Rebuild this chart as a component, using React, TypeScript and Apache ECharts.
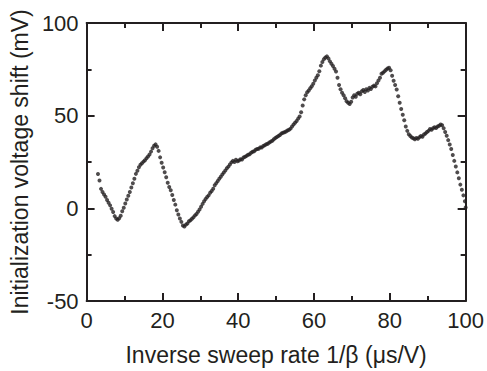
import React, { useEffect, useRef } from "react";
import * as echarts from "echarts";

const xTicks = [0, 20, 40, 60, 80, 100];
const yTicks = [-50, 0, 50, 100];
const xTitle = "Inverse sweep rate 1/β (μs/V)";
const yTitle = "Initialization voltage shift (mV)";

// measured points [inverse sweep rate, voltage shift]
const segA = [
  [3.0, 18.5], [3.4, 15.0], [3.8, 10.5], [4.2, 8.8], [4.6, 7.5], [5.0, 6.2], [5.4, 4.5], [5.8, 3.0],
  [6.2, 1.6], [6.6, -0.2], [7.0, -2.0], [7.4, -4.2], [7.8, -5.5], [8.2, -6.2], [8.6, -5.3], [9.0, -4.0],
  [9.4, -1.6], [9.8, 0.3], [10.2, 2.6], [10.6, 4.8], [11.0, 6.8], [11.4, 8.8], [11.8, 11.2], [12.2, 13.5],
  [12.6, 16.0], [13.0, 18.6], [13.4, 20.3], [13.8, 22.2], [14.2, 23.5], [14.6, 24.3], [15.0, 25.2], [15.4, 25.9],
  [15.8, 27.0], [16.2, 28.0], [16.6, 29.0], [17.0, 30.6], [17.4, 32.4], [17.8, 33.8], [18.2, 34.5], [18.6, 33.2],
  [19.0, 31.0], [19.4, 27.5], [19.8, 24.6], [20.2, 22.0], [20.6, 19.5], [21.0, 16.8], [21.4, 13.8], [21.8, 11.5],
  [22.2, 9.8], [22.6, 7.2], [23.0, 4.5], [23.4, 2.0], [23.8, -1.0], [24.2, -3.3], [24.6, -5.5], [25.0, -7.3],
  [25.4, -9.3], [25.8, -9.8], [26.2, -8.8], [26.6, -8.2], [27.0, -7.0], [27.4, -6.4], [27.8, -5.6], [28.2, -4.8],
];
const segB = [
  [28.6, -3.8], [29.0, -3.0], [29.4, -1.8], [29.8, -0.6], [30.2, 0.8], [30.6, 2.4], [31.0, 3.8], [31.4, 5.0],
  [31.8, 6.1], [32.2, 7.0], [32.6, 8.4], [33.0, 9.4], [33.4, 10.6], [33.8, 12.4], [34.2, 13.6], [34.6, 14.8],
  [35.0, 16.0], [35.4, 17.0], [35.8, 18.2], [36.2, 19.3], [36.6, 20.4], [37.0, 21.6], [37.4, 22.5], [37.8, 23.6],
  [38.2, 24.8], [38.6, 25.6], [39.0, 25.0], [39.4, 26.2], [39.8, 25.4], [40.2, 25.8], [40.6, 26.5], [41.0, 26.4],
  [41.4, 27.4], [41.8, 27.8], [42.2, 28.3], [42.6, 28.9], [43.0, 29.2], [43.4, 30.0], [43.8, 30.5], [44.2, 30.8],
  [44.6, 31.6], [45.0, 32.0], [45.4, 32.2], [45.8, 32.9], [46.2, 32.8], [46.6, 33.6], [47.0, 34.0], [47.4, 34.6],
  [47.8, 34.8], [48.2, 35.5], [48.6, 36.0], [49.0, 36.5], [49.4, 37.3], [49.8, 37.9], [50.2, 38.5], [50.6, 39.0],
  [51.0, 39.6], [51.4, 40.4], [51.8, 40.8], [52.2, 41.0], [52.6, 41.5], [53.0, 42.0], [53.4, 42.4], [53.8, 43.0],
];
const segC = [
  [54.2, 44.2], [54.6, 45.2], [55.0, 46.2], [55.4, 47.1], [55.8, 48.4], [56.2, 49.6], [56.6, 51.8], [57.0, 55.5],
  [57.4, 58.8], [57.8, 61.0], [58.2, 62.6], [58.6, 63.6], [59.0, 64.8], [59.4, 65.9], [59.8, 67.2], [60.2, 69.0],
  [60.6, 70.5], [61.0, 71.8], [61.4, 74.0], [61.8, 77.0], [62.2, 79.0], [62.6, 80.5], [63.0, 81.4], [63.4, 82.0],
  [63.8, 80.8], [64.2, 79.3], [64.6, 78.0], [65.0, 76.8], [65.4, 75.3], [65.8, 73.8], [66.2, 70.5], [66.6, 66.5],
  [67.0, 64.2], [67.4, 62.4], [67.8, 61.0], [68.2, 59.4], [68.6, 57.8], [69.0, 57.0], [69.4, 56.3], [69.8, 57.5],
  [70.2, 59.8], [70.6, 61.0], [71.0, 60.2], [71.4, 61.8], [71.8, 62.4], [72.2, 61.6], [72.6, 63.2], [73.0, 63.8],
  [73.4, 62.8], [73.8, 64.3], [74.2, 63.6], [74.6, 65.0], [75.0, 64.4], [75.4, 65.6], [75.8, 66.2], [76.2, 65.8],
  [76.6, 67.5], [77.0, 69.0], [77.4, 70.5], [77.8, 72.6], [78.2, 73.2], [78.6, 74.0], [79.0, 74.8], [79.4, 75.4],
];
const segD = [
  [79.8, 75.8], [80.2, 74.5], [80.6, 71.5], [81.0, 68.8], [81.4, 66.5], [81.8, 64.1], [82.2, 60.5], [82.6, 57.0],
  [83.0, 53.6], [83.4, 50.5], [83.8, 47.5], [84.2, 44.2], [84.6, 41.8], [85.0, 40.0], [85.4, 39.0], [85.8, 38.2],
  [86.2, 37.8], [86.6, 37.3], [87.0, 38.0], [87.4, 37.6], [87.8, 38.4], [88.2, 39.0], [88.6, 38.6], [89.0, 39.8],
  [89.4, 40.4], [89.8, 41.2], [90.2, 41.8], [90.6, 42.8], [91.0, 42.4], [91.4, 43.2], [91.8, 43.8], [92.2, 43.4],
  [92.6, 44.2], [93.0, 44.6], [93.4, 45.2], [93.8, 44.8], [94.2, 43.2], [94.6, 41.2], [95.0, 39.2], [95.4, 36.8],
  [95.8, 34.4], [96.2, 32.0], [96.6, 28.8], [97.0, 25.6], [97.4, 22.6], [97.8, 19.4], [98.2, 16.2], [98.6, 12.8],
  [99.0, 10.0], [99.4, 7.0], [99.8, 3.8], [100.0, 0.5],
];

const FONT = 'Arial, "Liberation Sans", Helvetica, sans-serif';
const INK = "#231f20";

export default function App() {
  const ref = useRef<HTMLDivElement>(null);
  useEffect(() => {
    if (!ref.current) return;
    const chart = echarts.init(ref.current, null, { renderer: "svg" });
    const data = [...segA, ...segB, ...segC, ...segD];
    const axisCommon = {
      axisLine: { show: true, onZero: false, lineStyle: { color: INK, width: 2 } },
      axisTick: { show: true, inside: true, length: 8, lineStyle: { color: INK, width: 2 } },
      minorTick: { show: true, splitNumber: 2, length: 5, lineStyle: { color: INK, width: 2 } },
      splitLine: { show: false },
      minorSplitLine: { show: false },
    };
    chart.setOption({
      animation: false,
      backgroundColor: "#fff",
      grid: { left: 86, right: 21, top: 23, bottom: 68, containLabel: false },
      xAxis: [
        {
          type: "value", position: "bottom", min: 0, max: 100, interval: 20,
          ...axisCommon,
          axisLabel: {
            show: true, margin: 8, color: INK, fontSize: 22, fontFamily: FONT,
            formatter: (v: number) => (xTicks.includes(v) ? String(v) : ""),
          },
          name: xTitle, nameLocation: "middle", nameGap: 42,
          nameTextStyle: { color: INK, fontSize: 23, fontFamily: FONT },
        },
        {
          type: "value", position: "top", min: 0, max: 100, interval: 20,
          ...axisCommon, axisLabel: { show: false },
        },
      ],
      yAxis: [
        {
          type: "value", position: "left", min: -50, max: 100, interval: 50,
          ...axisCommon,
          axisLabel: {
            show: true, margin: 8, color: INK, fontSize: 22, fontFamily: FONT,
            formatter: (v: number) => (yTicks.includes(v) ? String(v) : ""),
          },
          name: yTitle, nameLocation: "middle", nameGap: 55,
          nameTextStyle: { color: INK, fontSize: 23, fontFamily: FONT },
        },
        {
          type: "value", position: "right", min: -50, max: 100, interval: 50,
          ...axisCommon, axisLabel: { show: false },
        },
      ],
      series: [
        {
          type: "scatter",
          data,
          symbol: "circle",
          symbolSize: 4,
          itemStyle: { color: INK },
          xAxisIndex: 0,
          yAxisIndex: 0,
        },
      ],
    });
    return () => chart.dispose();
  }, []);
  return (
    <div
      ref={ref}
      style={{ position: "fixed", left: 0, top: 0, width: 487, height: 371 }}
    />
  );
}
